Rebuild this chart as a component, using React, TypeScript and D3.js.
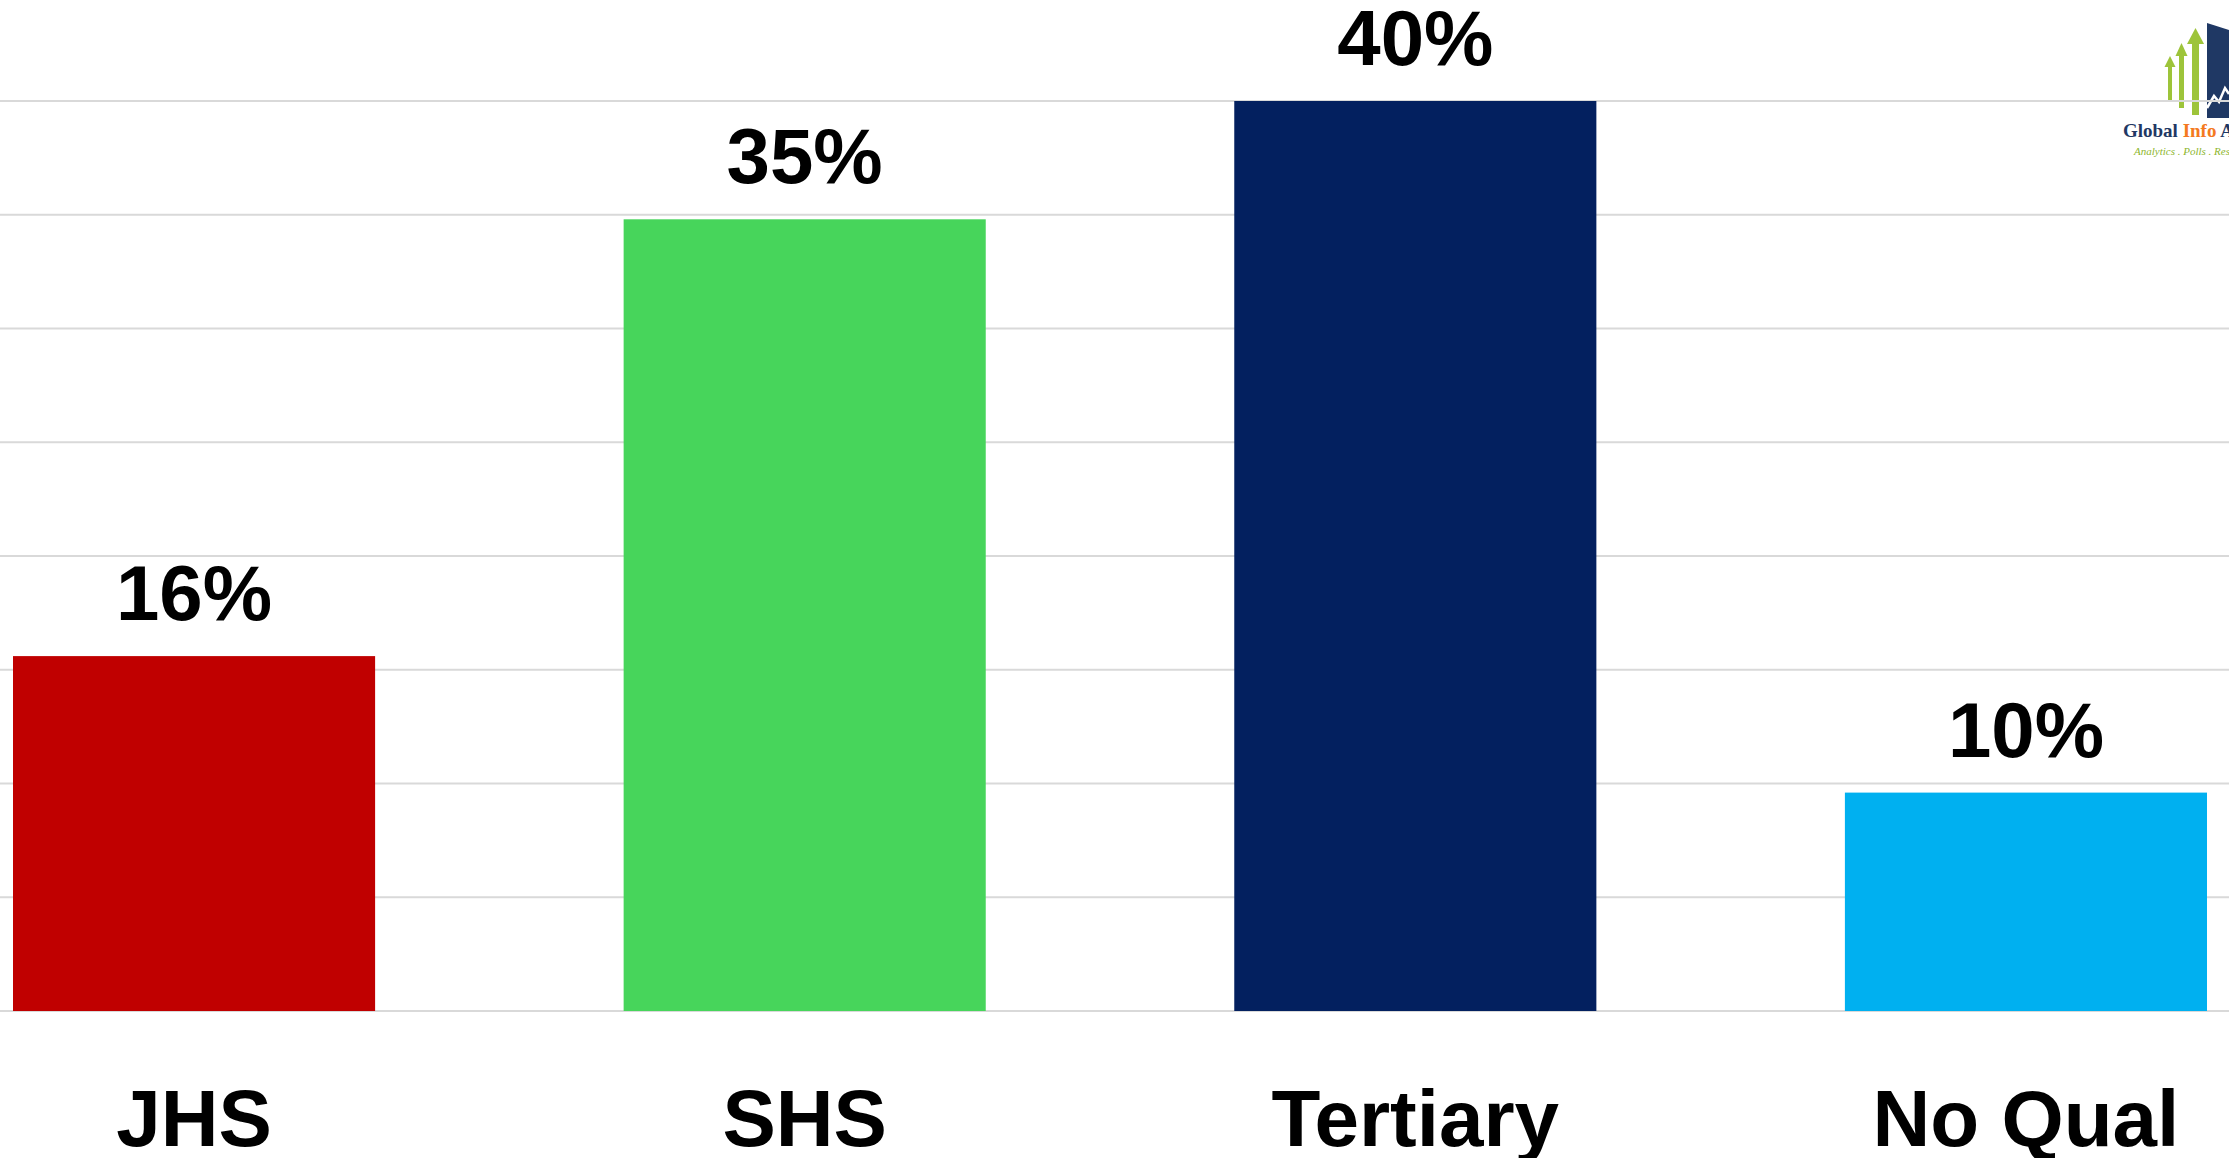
import React from "react";
import * as d3 from "d3";

const categories = ["JHS", "SHS", "Tertiary", "No Qual"];
const values = [15.6, 34.8, 40.0, 9.6];
const labels = ["16%", "35%", "40%", "10%"];
const colors = ["#C00000", "#47D55B", "#03205F", "#00B0F0"];
const gridTicks = [0, 5, 10, 15, 20, 25, 30, 35, 40];

const W = 2229;
const H = 1158;

export default function App() {
  const x = d3
    .scaleBand<string>()
    .domain(categories)
    .range([13, 2207])
    .paddingInner(0.407)
    .paddingOuter(0);
  const y = d3.scaleLinear().domain([0, 40]).range([1011, 101]);

  const pctFont = "'Liberation Sans', Arial, sans-serif";

  return (
    <>
      <style>{`body{margin:0;background:#fff;}`}</style>
      <svg width={W} height={H} style={{ display: "block", background: "#fff" }}>
        {/* logo (behind gridlines) */}
        <g>
          <polygon points="2207,23 2229,30 2229,118 2207,118" fill="#1F3864" />
          <polyline points="2207,108 2214,96 2219,102 2225,88 2229,94" fill="none" stroke="#fff" strokeWidth={2.5} />
          <rect x={2168} y={66} width={4} height={36} fill="#9DC43A" />
          <polygon points="2164.5,67 2170,56 2175.5,67" fill="#9DC43A" />
          <rect x={2179} y={54} width={5} height={54} fill="#9DC43A" />
          <polygon points="2175.5,56 2181.5,43 2187.5,56" fill="#9DC43A" />
          <rect x={2192} y={42} width={7} height={73} fill="#9DC43A" />
          <polygon points="2187,44 2195.5,28 2204,44" fill="#9DC43A" />
          <text x={2123} y={137} fontFamily="'Liberation Serif', 'DejaVu Serif', serif" fontWeight="bold" fontSize={19} fill="#1F3864">
            Global <tspan fill="#F47920">Info</tspan> A
          </text>
          <text x={2134} y={155} fontFamily="'Liberation Serif', serif" fontStyle="italic" fontSize={11} fill="#8DB62E">
            Analytics . Polls . Research
          </text>
        </g>

        {/* gridlines */}
        {gridTicks.map((t) => (
          <line key={t} x1={0} x2={W} y1={y(t)} y2={y(t)} stroke="#D9D9D9" strokeWidth={2} />
        ))}

        {/* bars */}
        {categories.map((c, i) => (
          <rect
            key={c}
            x={x(c)}
            y={y(values[i])}
            width={x.bandwidth()}
            height={y(0) - y(values[i])}
            fill={colors[i]}
          />
        ))}

        {/* value labels */}
        {categories.map((c, i) => (
          <text
            key={c + "-v"}
            x={(x(c) as number) + x.bandwidth() / 2}
            y={y(values[i]) - 36}
            textAnchor="middle"
            fontFamily={pctFont}
            fontWeight="bold"
            fontSize={78}
            fill="#000"
          >
            {labels[i]}
          </text>
        ))}

        {/* category labels */}
        {categories.map((c) => (
          <text
            key={c + "-c"}
            x={(x(c) as number) + x.bandwidth() / 2}
            y={1146}
            textAnchor="middle"
            fontFamily={pctFont}
            fontWeight="bold"
            fontSize={80}
            fill="#000"
          >
            {c}
          </text>
        ))}
      </svg>
    </>
  );
}
